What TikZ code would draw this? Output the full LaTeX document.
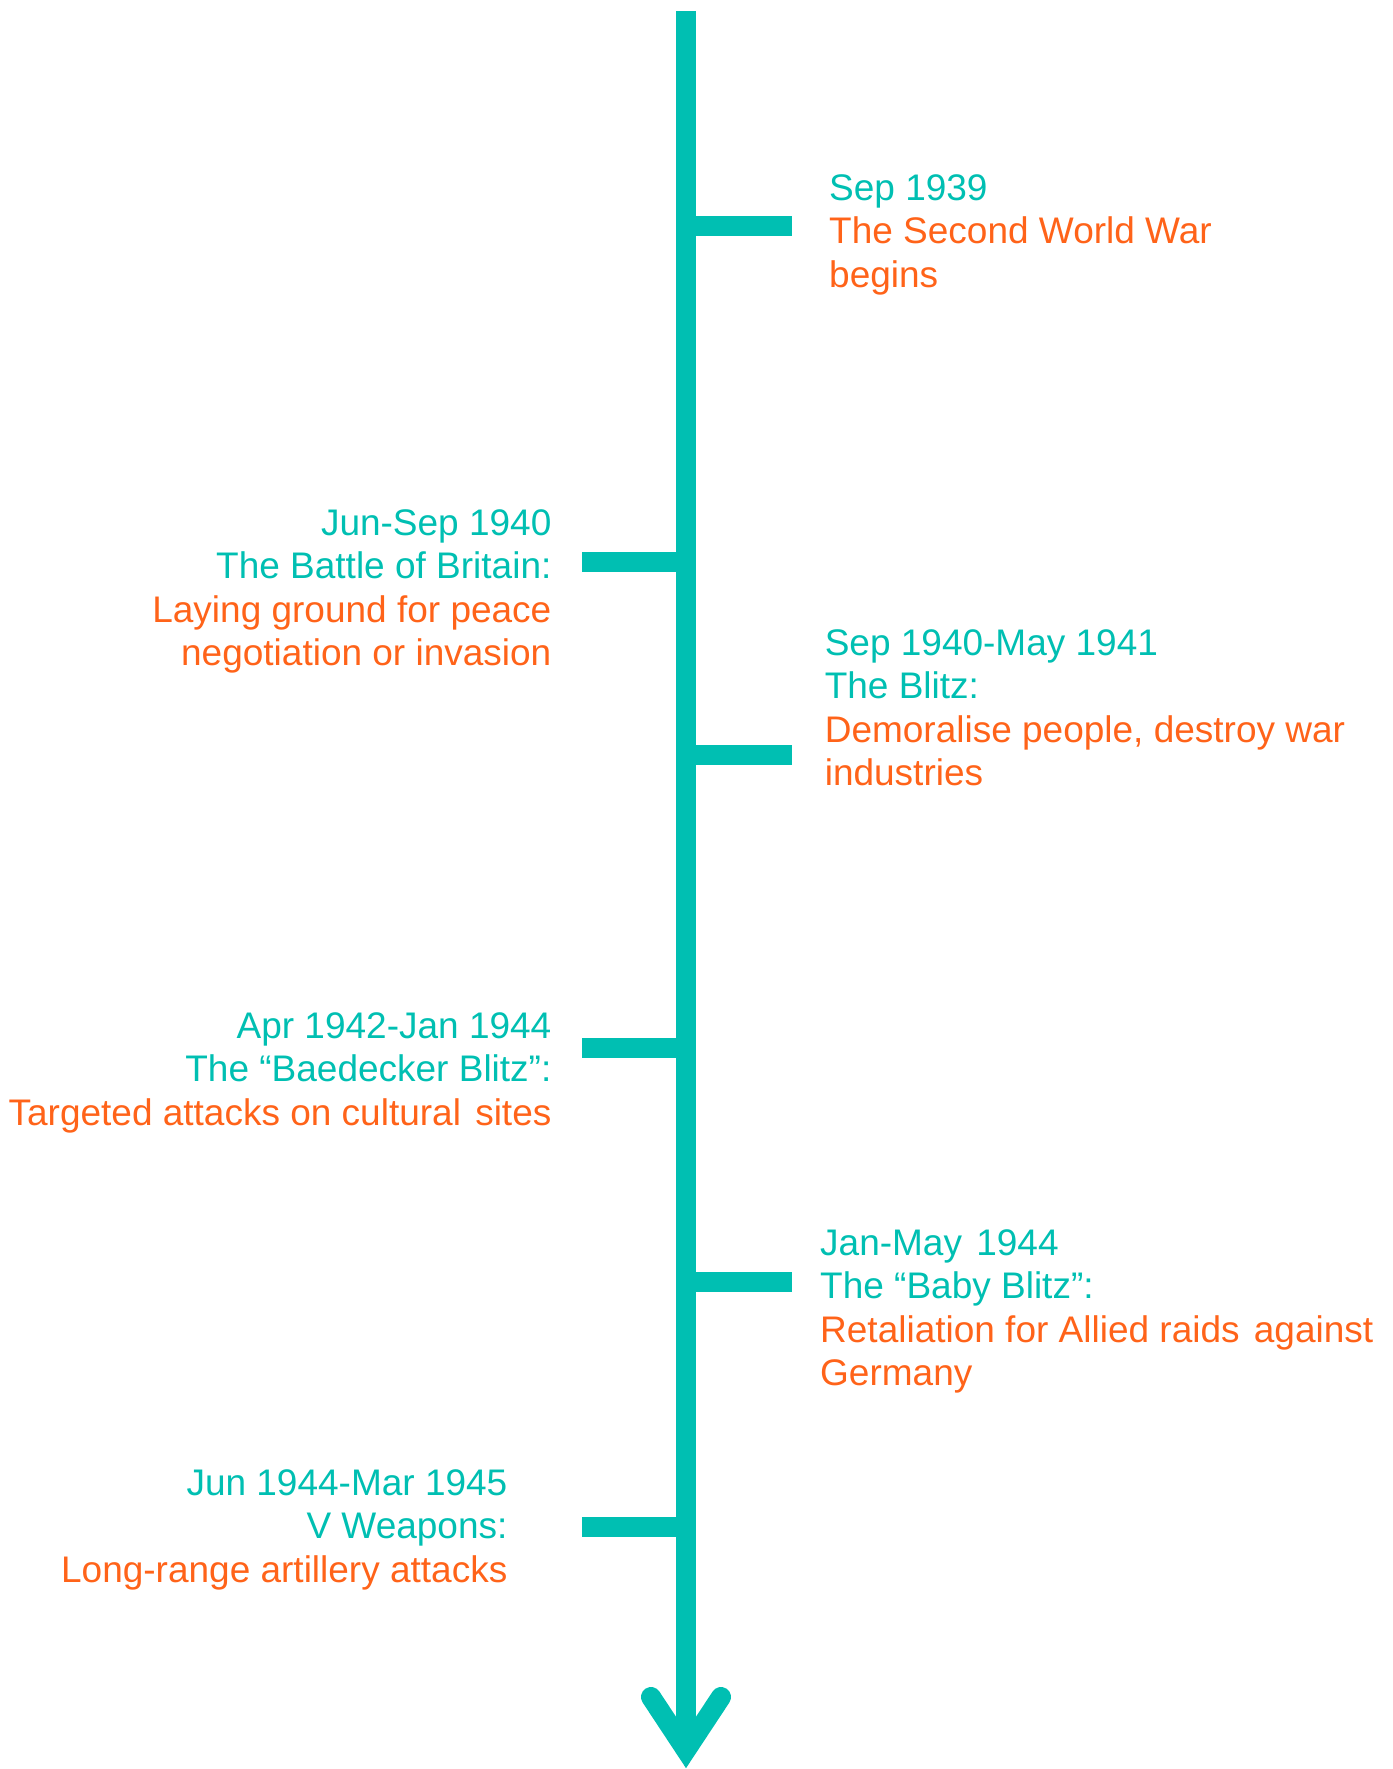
\documentclass[tikz,border=0pt]{standalone}
\usepackage{fontspec}
\setmainfont{Liberation Sans}
\definecolor{tl}{RGB}{0,191,178}
\definecolor{og}{RGB}{255,99,25}
\begin{document}
\begin{tikzpicture}[x=1pt,y=-1pt,
  axisline/.style={draw=tl,line width=20pt},
  tickline/.style={draw=tl,line width=20pt},
  chevron/.style={draw=tl,line width=20pt,line cap=round,miter limit=10},
  txt/.style={inner sep=0pt,font=\fontsize{37}{43.3}\selectfont},
  dR/.style={txt,text=tl,anchor=base west},
  oR/.style={txt,text=og,anchor=base west},
  dL/.style={txt,text=tl,anchor=base east},
  oL/.style={txt,text=og,anchor=base east}]
\useasboundingbox (0,0) rectangle (1392,1769);
% axis
\coordinate (top) at (686,11);
\coordinate (vtx) at (686,1750);
\coordinate (armL) at (651,1697);
\coordinate (armR) at (721,1697);
\draw[axisline] (top) -- (vtx);
\draw[chevron] (armL) -- (vtx) -- (armR);
% ticks
\coordinate (t1) at (686,225.6);
\coordinate (t2) at (686,561.8);
\coordinate (t3) at (686,754.6);
\coordinate (t4) at (686,1048);
\coordinate (t5) at (686,1281.5);
\coordinate (t6) at (686,1527.4);
\coordinate (e1) at (792,225.6);
\coordinate (e2) at (582,561.8);
\coordinate (e3) at (792,754.6);
\coordinate (e4) at (582,1048);
\coordinate (e5) at (792,1281.5);
\coordinate (e6) at (582,1527.4);
\foreach \i in {1,...,6} {\draw[tickline] (t\i) -- (e\i);}
% block 1
\node[dR] (r1a) at (829,200.5) {Sep 1939};
\node[oR] (r1b) at (829,243.8) {The Second World War};
\node[oR] (r1c) at (829,287.1) {begins};
% block 2
\node[dL] (l2a) at (551.6,535.5) {Jun-Sep 1940};
\node[dL] (l2b) at (551.6,578.8) {The Battle of Britain:};
\node[oL] (l2c) at (551.6,622.1) {Laying ground for peace};
\node[oL] (l2d) at (551.6,665.4) {negotiation or invasion};
% block 3
\node[dR] (r3a) at (824.6,655.6) {Sep 1940-May 1941};
\node[dR] (r3b) at (824.6,698.9) {The Blitz:};
\node[oR] (r3c) at (824.6,742.2) {Demoralise people, destroy war};
\node[oR] (r3d) at (824.6,785.5) {industries};
% block 4
\node[dL] (l4a) at (551.6,1038.5) {Apr 1942-Jan 1944};
\node[dL] (l4b) at (551.6,1081.8) {The “Baedecker Blitz”:};
\node[oL] (l4c) at (551.6,1125.1) {Targeted attacks on cultural\hspace{4pt} sites};
% block 5
\node[dR] (r5a) at (820,1255.5) {Jan-May\hspace{4pt} 1944};
\node[dR] (r5b) at (820,1298.8) {The “Baby Blitz”:};
\node[oR] (r5c) at (820,1342.1) {Retaliation for Allied raids\hspace{4pt} against};
\node[oR] (r5d) at (820,1385.4) {Germany};
% block 6
\node[dL] (l6a) at (507.6,1495.5) {Jun 1944-Mar 1945};
\node[dL] (l6b) at (507.6,1538.8) {V Weapons:};
\node[oL] (l6c) at (507.6,1582.1) {Long-range artillery attacks};
\end{tikzpicture}
\end{document}
